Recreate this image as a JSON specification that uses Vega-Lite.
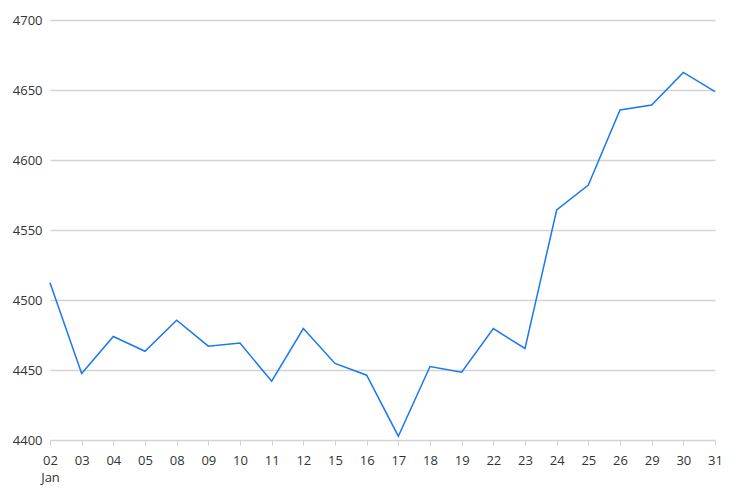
{
  "$schema": "https://vega.github.io/schema/vega-lite/v6.json",
  "autosize": "none",
  "width": 665,
  "height": 420,
  "padding": {"left": 50, "top": 20, "right": 22, "bottom": 61},
  "background": "white",
  "config": {
    "view": {"stroke": null},
    "font": "Open Sans"
  },
  "data": {
    "values": [
      {"day": "02", "value": 4512.3},
      {"day": "03", "value": 4447.5},
      {"day": "04", "value": 4473.9},
      {"day": "05", "value": 4463.4},
      {"day": "08", "value": 4485.6},
      {"day": "09", "value": 4467.0},
      {"day": "10", "value": 4469.2},
      {"day": "11", "value": 4442.0},
      {"day": "12", "value": 4479.6},
      {"day": "15", "value": 4454.7},
      {"day": "16", "value": 4446.3},
      {"day": "17", "value": 4402.7},
      {"day": "18", "value": 4452.5},
      {"day": "19", "value": 4448.4},
      {"day": "22", "value": 4479.6},
      {"day": "23", "value": 4465.4},
      {"day": "24", "value": 4564.3},
      {"day": "25", "value": 4582.1},
      {"day": "26", "value": 4635.7},
      {"day": "29", "value": 4639.3},
      {"day": "30", "value": 4662.6},
      {"day": "31", "value": 4648.9}
    ]
  },
  "mark": {"type": "line", "color": "#1a78f0", "strokeWidth": 1.5, "clip": false},
  "encoding": {
    "x": {
      "field": "day",
      "type": "ordinal",
      "sort": null,
      "scale": {"type": "point", "padding": 0},
      "axis": {
        "title": null,
        "labelAngle": 0,
        "labelFontSize": 13,
        "labelColor": "#333333",
        "labelPadding": 9,
        "labelLineHeight": 17,
        "labelExpr": "datum.value == '02' ? ['02', 'Jan'] : datum.value",
        "tickSize": 5,
        "tickColor": "#d3d3d3",
        "domainColor": "#d3d3d3",
        "grid": false
      }
    },
    "y": {
      "field": "value",
      "type": "quantitative",
      "scale": {"domain": [4400, 4700], "nice": false, "zero": false},
      "axis": {
        "title": null,
        "format": "d",
        "values": [4400, 4450, 4500, 4550, 4600, 4650, 4700],
        "labelFontSize": 13,
        "labelColor": "#333333",
        "labelPadding": 8,
        "ticks": false,
        "domain": false,
        "grid": true,
        "gridColor": "#d3d3d3",
        "gridWidth": 1.5
      }
    }
  }
}
